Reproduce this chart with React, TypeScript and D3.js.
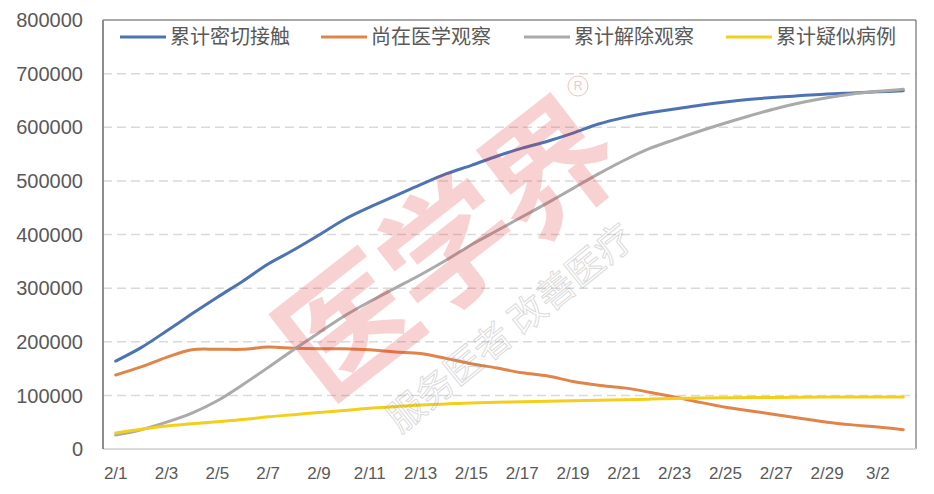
import React from "react";
import * as d3 from "d3";

const dates = ["2/1","2/2","2/3","2/4","2/5","2/6","2/7","2/8","2/9","2/10","2/11","2/12","2/13","2/14","2/15","2/16","2/17","2/18","2/19","2/20","2/21","2/22","2/23","2/24","2/25","2/26","2/27","2/28","2/29","3/1","3/2","3/3"];

const closeContacts = [164000,189000,220000,252000,283000,313000,345000,371000,399000,428000,451000,472000,493000,513000,529000,546000,561000,574000,589000,606000,618000,627000,634000,641000,647000,652000,656000,659000,662000,664000,666000,668000];
const underObservation = [138000,153000,171000,185000,186000,186000,190000,188000,187000,187000,185000,181000,178000,169000,159000,151000,142000,136000,126000,119000,114000,106000,97000,87000,78000,71000,64000,57000,50000,45000,41000,36000];
const released = [26000,36000,50000,67000,90000,120000,152000,185000,217000,248000,275000,300000,325000,352000,381000,407000,433000,459000,486000,513000,538000,560000,577000,593000,608000,622000,635000,646000,655000,662000,667000,671000];
const suspected = [30000,37000,43000,47000,51000,55000,60000,64000,68000,72000,76000,79000,82000,84000,86000,87000,88000,89000,90000,91000,92000,93000,94000,95000,95500,96000,96000,96500,97000,97000,97000,97000];

const seriesNames = ["累计密切接触","尚在医学观察","累计解除观察","累计疑似病例"];
const seriesColors = ["#4d73b2","#e0854a","#aaaaaa","#f3cf1c"];
const yTicks = [0,100000,200000,300000,400000,500000,600000,700000,800000];

const W = 934, H = 494;
const L = 103, R = 916, T = 20, B = 449;
const FONT = "'Liberation Sans', Arial, 'Noto Sans CJK SC', sans-serif";

export default function App() {
  const x = d3.scaleBand<string>().domain(dates).range([L, R]).padding(0);
  const y = d3.scaleLinear().domain([0, 800000]).range([B, T]);
  const cx = (d: string) => (x(d) as number) + x.bandwidth() / 2;
  const line = d3.line<number>()
    .x((_, i) => cx(dates[i]))
    .y((v) => y(v))
    .curve(d3.curveCatmullRom.alpha(0.5));
  const all = [closeContacts, underObservation, released, suspected];
  const legendX = [120, 321, 524, 726];

  return (
    <svg width={W} height={H} style={{ position: "absolute", left: 0, top: 0, background: "#fff" }} fontFamily={FONT}>
      <rect x={0} y={0} width={W} height={H} fill="#fff" />
      {/* gridlines */}
      {yTicks.filter((t) => t > 0 && t < 800000).map((t) => (
        <line key={t} x1={L} x2={R} y1={y(t)} y2={y(t)} stroke="#d9d9d9" strokeWidth={1.5} strokeDasharray="9,5" />
      ))}
      {/* frame */}
      <line x1={L} x2={R} y1={T} y2={T} stroke="#555" strokeWidth={1} />
      <line x1={R} x2={R} y1={T} y2={B} stroke="#555" strokeWidth={1} />
      <line x1={L} x2={R} y1={B} y2={B} stroke="#d9d9d9" strokeWidth={2} />
      <line x1={L} x2={L} y1={T} y2={B} stroke="#8c8c8c" strokeWidth={2} />
      {/* y labels */}
      {yTicks.map((t) => (
        <text key={t} x={83} y={y(t)} dy="0.36em" textAnchor="end" fontSize={20} fill="#595959">{t}</text>
      ))}
      {/* x labels */}
      {dates.map((d, i) => i % 2 === 0 ? (
        <text key={d} x={cx(d)} y={479} textAnchor="middle" fontSize={17} fill="#595959">{d}</text>
      ) : null)}
      {/* series */}
      {all.map((s, i) => (
        <path key={i} d={line(s) as string} fill="none" stroke={seriesColors[i]} strokeWidth={3} strokeLinejoin="round" strokeLinecap="round" />
      ))}
      {/* legend */}
      {seriesNames.map((n, i) => (
        <g key={n}>
          <line x1={legendX[i]} x2={legendX[i] + 46} y1={37} y2={37} stroke={seriesColors[i]} strokeWidth={3} />
          <text x={legendX[i] + 50} y={37} dy="0.36em" fontSize={20} fill="#595959">{n}</text>
        </g>
      ))}
      {/* watermark */}
      <g transform="translate(448,250) rotate(-38)" opacity={0.22}>
        <text textAnchor="middle" fontSize={132} fontWeight="bold" fill="#e2343a" fontFamily="'Noto Sans CJK SC', sans-serif" dy="0.35em" letterSpacing={-4}>医学界</text>
      </g>
      <g transform="translate(578,86)" opacity={0.3}>
        <circle r={10} fill="none" stroke="#e2343a" strokeWidth={1} />
        <text textAnchor="middle" dy="0.35em" fontSize={12} fill="#e2343a">R</text>
      </g>
      <g transform="translate(510,328) rotate(-39)" opacity={0.3}>
        <text textAnchor="middle" fontSize={37} fill="none" stroke="#888" strokeWidth={1} fontFamily="'Noto Sans CJK SC', sans-serif" dy="0.35em">服务医者 改善医疗</text>
      </g>
    </svg>
  );
}
